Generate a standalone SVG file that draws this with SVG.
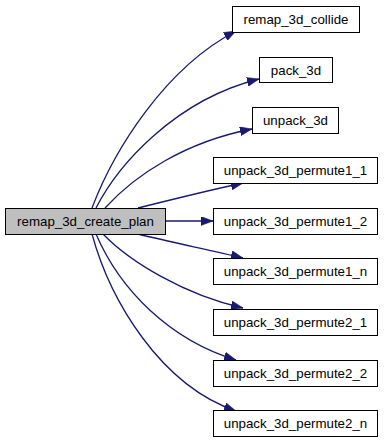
<svg xmlns="http://www.w3.org/2000/svg" width="384" height="443" viewBox="0 0 384 443">
  <style>
    .node rect { fill: #ffffff; stroke: #000000; stroke-width: 1; }
    .node.root rect { fill: #bfbfbf; }
    .node text { font-family: "Liberation Sans", Arial, Helvetica, sans-serif; font-size: 13.3px; fill: #000000; text-anchor: middle; }
    .edges path { fill: none; stroke: #191970; stroke-width: 1.3; marker-end: url(#arrow); }
  </style>
  <defs>
    <marker id="arrow" markerUnits="userSpaceOnUse" viewBox="0 0 12 9" refX="12" refY="4.5" markerWidth="12" markerHeight="9" orient="auto">
      <path d="M0,0 L12,4.5 L0,9 Z" fill="#191970" stroke="#191970" stroke-width="0.5"/>
    </marker>
  </defs>

  <rect width="384" height="443" fill="#ffffff"/>

  <!-- call edges -->
  <g id="edges" class="edges">
    <path d="M92,208 C114,150 165,68 236,31"/>
    <path d="M96,208 C118,165 175,100 259,79"/>
    <path d="M105,208 C135,175 185,142 252,129"/>
    <path d="M138,208 C170,200 210,190 243,183"/>
    <path d="M165,221 L213,221"/>
    <path d="M138,234 C170,242 210,250 243,258"/>
    <path d="M103,234 C130,262 185,295 243,308"/>
    <path d="M96,234 C120,290 170,340 236,360"/>
    <path d="M92,234 C110,300 160,385 236,411"/>
  </g>

  <g id="remap_3d_create_plan" class="node root">
    <rect x="5.5" y="208.5" width="160" height="26"/>
    <text x="85.5" y="226">remap_3d_create_plan</text>
  </g>
  <g id="remap_3d_collide" class="node">
    <rect x="232.5" y="6.5" width="127" height="26"/>
    <text x="296" y="24">remap_3d_collide</text>
  </g>
  <g id="pack_3d" class="node">
    <rect x="259.5" y="57.5" width="73" height="25"/>
    <text x="296" y="74.5">pack_3d</text>
  </g>
  <g id="unpack_3d" class="node">
    <rect x="252.5" y="107.5" width="86" height="26"/>
    <text x="295.5" y="125">unpack_3d</text>
  </g>
  <g id="unpack_3d_permute1_1" class="node">
    <rect x="213.5" y="157.5" width="164" height="26"/>
    <text x="295.5" y="175">unpack_3d_permute1_1</text>
  </g>
  <g id="unpack_3d_permute1_2" class="node">
    <rect x="213.5" y="208.5" width="164" height="26"/>
    <text x="295.5" y="226">unpack_3d_permute1_2</text>
  </g>
  <g id="unpack_3d_permute1_n" class="node">
    <rect x="213.5" y="258.5" width="164" height="26"/>
    <text x="295.5" y="276">unpack_3d_permute1_n</text>
  </g>
  <g id="unpack_3d_permute2_1" class="node">
    <rect x="213.5" y="309.5" width="164" height="26"/>
    <text x="295.5" y="327">unpack_3d_permute2_1</text>
  </g>
  <g id="unpack_3d_permute2_2" class="node">
    <rect x="213.5" y="360.5" width="164" height="26"/>
    <text x="295.5" y="378">unpack_3d_permute2_2</text>
  </g>
  <g id="unpack_3d_permute2_n" class="node">
    <rect x="213.5" y="410.5" width="164" height="26"/>
    <text x="295.5" y="428">unpack_3d_permute2_n</text>
  </g>
</svg>
